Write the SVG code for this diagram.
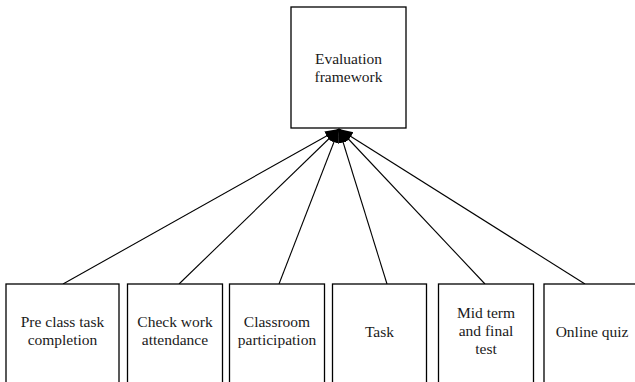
<svg xmlns="http://www.w3.org/2000/svg" width="635" height="382" viewBox="0 0 635 382">
<defs>
<style>
.box{fill:#fff;stroke:#000;stroke-width:1.3}
.t{font-family:'Liberation Serif','DejaVu Serif',serif;font-size:15.5px;fill:#1a1a1a;text-anchor:middle}
.c{stroke:#000;stroke-width:1.1;fill:none;marker-end:url(#ah)}
</style>
<marker id="ah" markerUnits="userSpaceOnUse" markerWidth="16" markerHeight="12" refX="14" refY="5" orient="auto">
<path d="M0,0 L14,5 L0,10 Z" fill="#000"/>
</marker>
</defs>
<rect width="635" height="382" fill="#fff"/>
<g id="connectors">
<line class="c" x1="63" y1="284" x2="339" y2="129"/>
<line class="c" x1="179" y1="284" x2="339" y2="129"/>
<line class="c" x1="279" y1="284" x2="339" y2="129"/>
<line class="c" x1="387" y1="284" x2="339" y2="129"/>
<line class="c" x1="485" y1="284" x2="339" y2="129"/>
<line class="c" x1="585" y1="284" x2="339" y2="129"/>
</g>
<g id="evaluation" font-family="Liberation Serif, serif">
<rect class="box" x="291" y="7" width="115" height="121"/>
<text class="t" x="348.5" y="64">Evaluation</text>
<text class="t" x="348.5" y="82">framework</text>
</g>
<g id="preclass" font-family="Liberation Serif, serif">
<rect class="box" x="6" y="284" width="113" height="110"/>
<text class="t" x="62.5" y="327">Pre class task</text>
<text class="t" x="62.5" y="345">completion</text>
</g>
<g id="checkwork" font-family="Liberation Serif, serif">
<rect class="box" x="127.5" y="284" width="95" height="110"/>
<text class="t" x="175" y="327">Check work</text>
<text class="t" x="175" y="345">attendance</text>
</g>
<g id="classroom" font-family="Liberation Serif, serif">
<rect class="box" x="229.5" y="284" width="95" height="110"/>
<text class="t" x="277" y="327">Classroom</text>
<text class="t" x="277" y="345">participation</text>
</g>
<g id="task" font-family="Liberation Serif, serif">
<rect class="box" x="332.5" y="284" width="94" height="110"/>
<text class="t" x="379.5" y="337">Task</text>
</g>
<g id="midterm" font-family="Liberation Serif, serif">
<rect class="box" x="438.5" y="284" width="95" height="110"/>
<text class="t" x="486" y="318">Mid term</text>
<text class="t" x="486" y="336">and final</text>
<text class="t" x="486" y="354">test</text>
</g>
<g id="onlinequiz" font-family="Liberation Serif, serif">
<rect class="box" x="544" y="284" width="98" height="110"/>
<text class="t" x="592" y="337">Online quiz</text>
</g>
</svg>
